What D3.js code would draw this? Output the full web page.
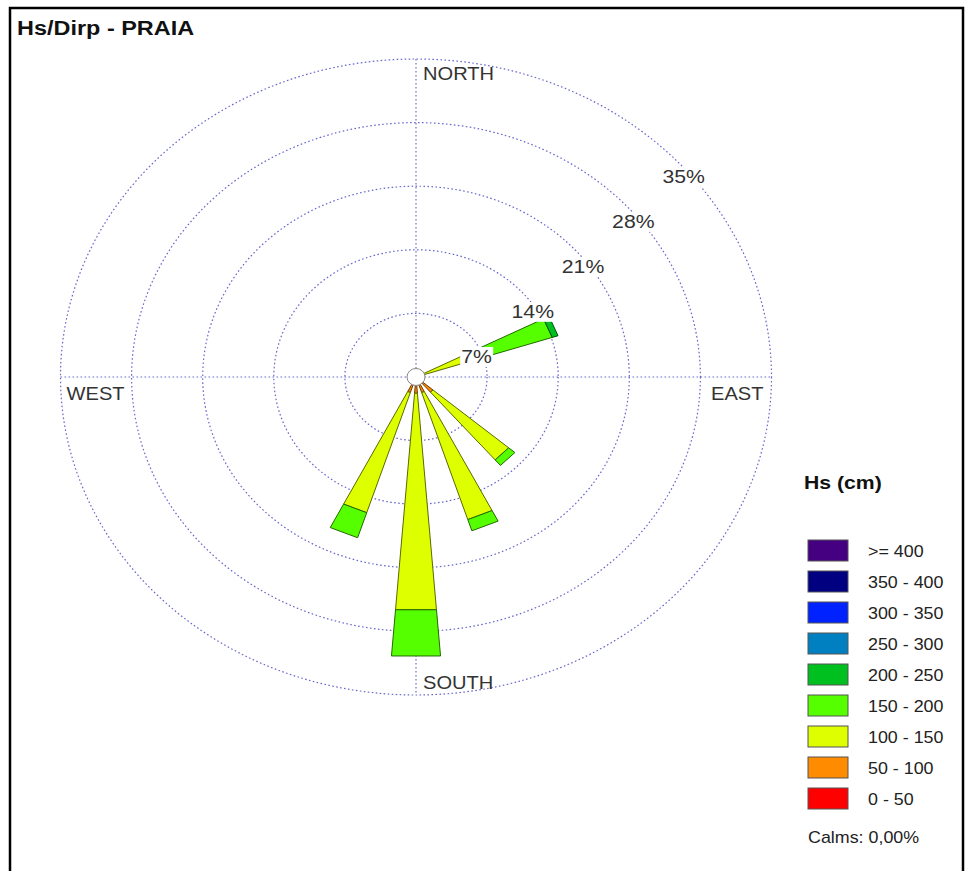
<!DOCTYPE html>
<html>
<head>
<meta charset="utf-8">
<script src="https://cdn.jsdelivr.net/npm/d3@7"></script>
<style>
  html, body { margin: 0; padding: 0; background: #fff; }
  svg { display: block; }
  text { font-family: "Liberation Sans", Arial, sans-serif; }
</style>
</head>
<body>
<svg id="chart" width="967" height="871"></svg>
<script>
// Wave rose: significant wave height (Hs) by peak direction (Dirp), Praia
const directions = ["N","NNE","NE","ENE","E","ESE","SE","SSE","S","SSW","SW","WSW","W","WNW","NW","NNW"];

// Frequency (%) per direction for each Hs class, lowest class first
const hs0_50    = [0,0,0,0,   0,0,0.4,0.4, 0.4,0.4,0,0,0,0,0,0];
const hs50_100  = [0,0,0,0,   0,0,1.8,1.4, 1.4,1.4,0,0,0,0,0,0];
const hs100_150 = [0,0,0,6.5, 0,0,9.8,14.7,23.9,13.9,0,0,0,0,0,0];
const hs150_200 = [0,0,0,7.6, 0,0,0.8,1.3, 5.1,2.9,0,0,0,0,0,0];
const hs200_250 = [0,0,0,0.6, 0,0,0,0,     0,0,0,0,0,0,0,0];
const hs250_300 = [0,0,0,0,   0,0,0,0,     0,0,0,0,0,0,0,0];
const hs300_350 = [0,0,0,0,   0,0,0,0,     0,0,0,0,0,0,0,0];
const hs350_400 = [0,0,0,0,   0,0,0,0,     0,0,0,0,0,0,0,0];
const hs400     = [0,0,0,0,   0,0,0,0,     0,0,0,0,0,0,0,0];

const classLabels = ["0 - 50","50 - 100","100 - 150","150 - 200","200 - 250","250 - 300","300 - 350","350 - 400",">= 400"];
const classColors = ["#ff0000","#ff8c00","#ddff00","#55ff00","#00c020","#0080c0","#0022ff","#000080","#440080"];
const classSeries = [hs0_50, hs50_100, hs100_150, hs150_200, hs200_250, hs250_300, hs300_350, hs350_400, hs400];

const ringValues = [7, 14, 21, 28, 35];
const compassLabels = ["NORTH", "EAST", "SOUTH", "WEST"];
const titleText = "Hs/Dirp - PRAIA";
const legendTitle = "Hs (cm)";
const calmsText = "Calms: 0,00%";

const svg = d3.select("#chart");
const cx = 416, cy = 377;
const maxPct = 35;
const textStretch = 1.117;

// Separate horizontal / vertical radial scales (the plot is drawn slightly elliptical)
const rX = d3.scaleLinear().domain([0, maxPct]).range([0, 355.5]);
const rY = d3.scaleLinear().domain([0, maxPct]).range([0, 318]);
const angle = d3.scalePoint().domain(directions.concat(["_"])).range([0, 360]);
const rad = d => d * Math.PI / 180;
const px = (v, a) => cx + rX(v) * Math.sin(rad(a));
const py = (v, a) => cy - rY(v) * Math.cos(rad(a));

// Frame
svg.append("rect")
  .attr("x", 10).attr("y", 8).attr("width", 953).attr("height", 900)
  .attr("fill", "none").attr("stroke", "#000").attr("stroke-width", 2.5);

function stretchedText(g, x, y, str, opts) {
  const t = g.append("g").attr("transform", `translate(${x},${y}) scale(${textStretch},1)`);
  const el = t.append("text").attr("x", 0).attr("y", 0).text(str)
    .attr("font-size", opts.size).attr("fill", opts.fill || "#222")
    .attr("font-weight", opts.weight || "normal")
    .attr("text-anchor", opts.anchor || "start");
  if (opts.dy) el.attr("dy", opts.dy);
  return t;
}

// Title
stretchedText(svg, 17, 35, titleText, { size: 21, weight: "bold", fill: "#111" });

// Grid rings and cross-hairs
const grid = svg.append("g")
  .attr("fill", "none").attr("stroke", "#6868cc").attr("stroke-width", 1.2)
  .attr("stroke-dasharray", "1.6,2.4");
grid.selectAll("ellipse").data(ringValues).join("ellipse")
  .attr("cx", cx).attr("cy", cy)
  .attr("rx", d => rX(d)).attr("ry", d => rY(d));
grid.append("line").attr("x1", px(maxPct, 270)).attr("y1", cy).attr("x2", px(maxPct, 90)).attr("y2", cy);
grid.append("line").attr("x1", cx).attr("y1", py(maxPct, 0)).attr("x2", cx).attr("y2", py(maxPct, 180));

// Petals: stacked class segments per direction
const halfWidth = 4.5;
const segments = [];
directions.forEach((dir, i) => {
  let acc = 0;
  classSeries.forEach((series, k) => {
    const v = series[i];
    if (v > 0) {
      segments.push({ dir, k, v0: acc, v1: acc + v });
      acc += v;
    }
  });
});
svg.append("g").selectAll("path").data(segments).join("path")
  .attr("d", s => {
    const a = angle(s.dir);
    const pts = [[s.v0, a - halfWidth], [s.v1, a - halfWidth], [s.v1, a + halfWidth], [s.v0, a + halfWidth]]
      .map(([v, b]) => [px(v, b), py(v, b)]);
    return d3.line()(pts) + "Z";
  })
  .attr("fill", s => classColors[s.k])
  .attr("stroke", s => d3.color(classColors[s.k]).darker(2.5))
  .attr("stroke-width", 1)
  .attr("stroke-linejoin", "round");

// Calm circle
svg.append("ellipse").attr("cx", cx).attr("cy", cy).attr("rx", 9).attr("ry", 8.5)
  .attr("fill", "#fff").attr("stroke", "#888").attr("stroke-width", 1);

// Ring percentage labels along the 45 degree radial, on white boxes
const ringLab = svg.append("g");
ringValues.forEach(v => {
  const g = stretchedText(ringLab, px(v, 45) - 5, py(v, 45) + 31, v + "%", { size: 19, fill: "#333" });
  const bb = g.select("text").node().getBBox();
  g.insert("rect", "text").attr("x", bb.x - 1).attr("y", bb.y + 1)
    .attr("width", bb.width + 2).attr("height", bb.height - 1).attr("fill", "#fff");
});

// Compass labels
stretchedText(svg, cx + 7, py(maxPct, 0) + 21, compassLabels[0], { size: 18, fill: "#333" });
stretchedText(svg, px(maxPct, 90) - 8, cy + 23, compassLabels[1], { size: 18, fill: "#333", anchor: "end" });
stretchedText(svg, cx + 7, py(maxPct, 180) - 6, compassLabels[2], { size: 18, fill: "#333" });
stretchedText(svg, px(maxPct, 270) + 6, cy + 23, compassLabels[3], { size: 18, fill: "#333" });

// Legend (highest class on top)
const legend = svg.append("g");
stretchedText(legend, 804, 489, legendTitle, { size: 19, weight: "bold", fill: "#111" });
const legendOrder = d3.range(classLabels.length).reverse();
const ly = d3.scaleBand().domain(legendOrder).range([540, 540 + 31 * legendOrder.length]);
legendOrder.forEach(k => {
  legend.append("rect").attr("x", 808).attr("y", ly(k)).attr("width", 40).attr("height", 21)
    .attr("fill", classColors[k]).attr("stroke", "#555").attr("stroke-width", 1);
  stretchedText(legend, 868, ly(k) + 16.5, classLabels[k], { size: 16, fill: "#222" });
});
stretchedText(legend, 808, 843, calmsText, { size: 16, fill: "#222" });
</script>
</body>
</html>
